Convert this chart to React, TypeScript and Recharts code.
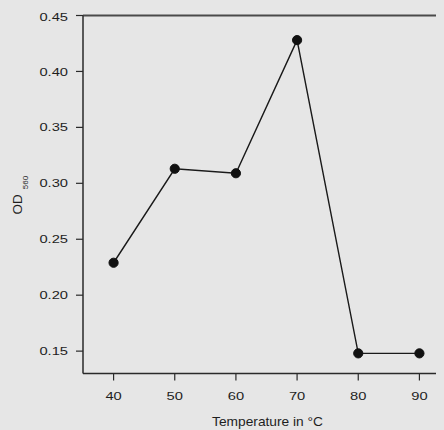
import React from 'react';
import { LineChart, Line, XAxis, YAxis, ReferenceLine } from 'recharts';

const temperatures = [40, 50, 60, 70, 80, 90];
const odValues = [0.229, 0.313, 0.309, 0.428, 0.148, 0.148];
const xTicks = [40, 50, 60, 70, 80, 90];
const yTicks = [0.15, 0.2, 0.25, 0.3, 0.35, 0.4, 0.45];

const data = temperatures.map((t, i) => ({ t, od: odValues[i] }));

const FONT = '"Liberation Sans", Arial, Helvetica, sans-serif';
const TEXT = '#1e1e1e';
const AXIS = '#2a2a2a';

const XTick = (props: any) => {
  const { x, y, payload } = props;
  return (
    <text
      transform={`translate(${x} ${y}) scale(1.28 1)`}
      textAnchor="middle"
      dy="0.71em"
      fontSize={11.5}
      fontFamily={FONT}
      fill={TEXT}
    >
      {payload.value}
    </text>
  );
};

const YTick = (props: any) => {
  const { x, y, payload } = props;
  return (
    <text
      transform={`translate(${x} ${y}) scale(1.28 1)`}
      textAnchor="end"
      dy="0.355em"
      fontSize={11.5}
      fontFamily={FONT}
      fill={TEXT}
    >
      {Number(payload.value).toFixed(2)}
    </text>
  );
};

const XLabel = (props: any) => {
  const vb = props.viewBox || { x: 75, y: 365.5, width: 367, height: 56 };
  const cx = vb.x + vb.width / 2 + 1;
  const by = vb.y + 52;
  return (
    <text
      transform={`translate(${cx} ${by}) scale(1.1 1)`}
      textAnchor="middle"
      fontSize={12.5}
      fontFamily={FONT}
      fill={TEXT}
    >
      Temperature in °C
    </text>
  );
};

const YLabel = (props: any) => {
  const vb = props.viewBox || { x: 0, y: 7.5, width: 75, height: 358 };
  const cy = vb.y + vb.height / 2 + 20;
  return (
    <text
      transform={`translate(13.7 ${cy}) rotate(-90)`}
      textAnchor="start"
      fontFamily={FONT}
      fill={TEXT}
    >
      <tspan fontSize={13.5}>OD</tspan>
      <tspan fontSize={8} dx={5} dy={6.3}>560</tspan>
    </text>
  );
};

export default function App() {
  return (
    <div style={{ width: 436, height: 422, overflow: 'hidden' }}>
      <style>{`html,body{overflow:hidden;background:#e6e6e6;}`}</style>
      <LineChart
        width={442}
        height={422}
        data={data}
        margin={{ top: 7.5, right: 0, bottom: 0, left: 0 }}
      >
        <XAxis
          dataKey="t"
          type="number"
          domain={[35, 95]}
          ticks={xTicks}
          height={56.5}
          tickSize={7}
          tickMargin={11}
          tick={<XTick />}
          axisLine={{ stroke: AXIS, strokeWidth: 1.5 }}
          tickLine={{ stroke: AXIS, strokeWidth: 1.2 }}
          label={<XLabel />}
          allowDataOverflow
        />
        <YAxis
          type="number"
          domain={[0.13, 0.45]}
          ticks={yTicks}
          width={75}
          tickSize={7}
          tickMargin={8}
          tick={<YTick />}
          axisLine={{ stroke: AXIS, strokeWidth: 1.5 }}
          tickLine={{ stroke: AXIS, strokeWidth: 1.2 }}
          label={<YLabel />}
          allowDataOverflow
        />
        <ReferenceLine y={0.45} stroke="#4a4a4a" strokeWidth={2} />
        <ReferenceLine x={95} stroke="#4a4a4a" strokeWidth={2} />
        <Line
          dataKey="od"
          stroke="#1a1a1a"
          strokeWidth={1.4}
          dot={{ r: 4.6, fill: '#111', stroke: '#111', strokeWidth: 1 }}
          activeDot={false}
          isAnimationActive={false}
        />
      </LineChart>
    </div>
  );
}
